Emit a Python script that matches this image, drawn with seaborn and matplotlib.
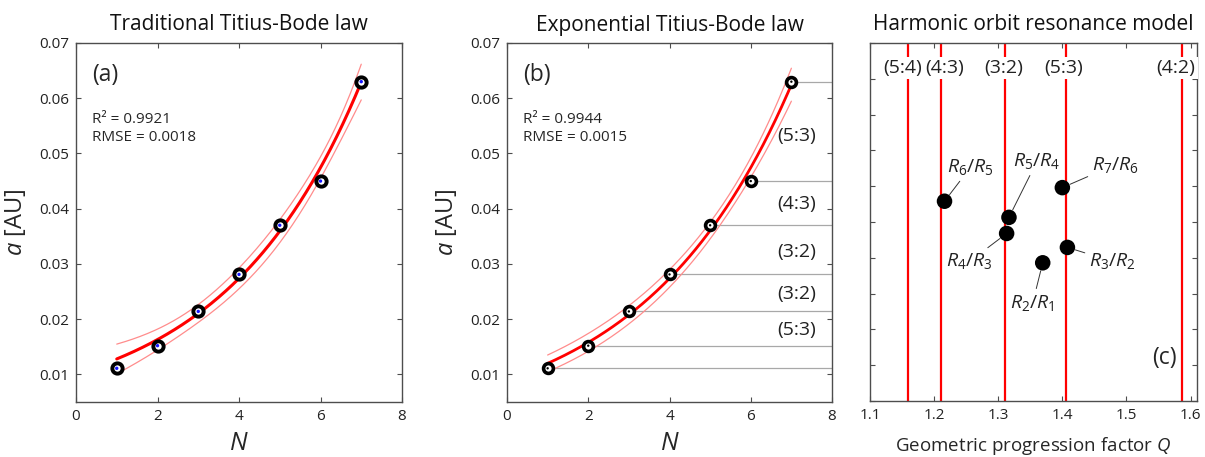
import numpy as np
import pandas as pd
import matplotlib
matplotlib.use("Agg")
import matplotlib.pyplot as plt
import seaborn as sns

# ---- data -------------------------------------------------------------
planet_n = [1, 2, 3, 4, 5, 6, 7]
semi_major_au = [0.0111, 0.0152, 0.0214, 0.0281, 0.0370, 0.0450, 0.0630]

stats_traditional = ["R\u00b2 = 0.9921", "RMSE = 0.0018"]
stats_exponential = ["R\u00b2 = 0.9944", "RMSE = 0.0015"]

# fitted coefficients: a = A + B * C**N  and  a = A * exp(k N)
tb_coef = {"A": 0.00266, "B": 0.00753, "C": 1.346}
exp_coef = {"A": 0.00911, "k": 0.275}

# resonance label for each gap between neighbouring orbits (inner gap unlabelled)
gap_resonances = ["", "(5:3)", "(3:2)", "(3:2)", "(4:3)", "(5:3)"]

resonance_names = ["(5:4)", "(4:3)", "(3:2)", "(5:3)", "(4:2)"]
resonance_q = [1.160, 1.211, 1.310, 1.406, 1.587]

ratio_names = [r"$R_2/R_1$", r"$R_3/R_2$", r"$R_4/R_3$",
               r"$R_5/R_4$", r"$R_6/R_5$", r"$R_7/R_6$"]
ratio_rows = [3.86, 4.29, 4.68, 5.13, 5.58, 5.96]

# ---- style ------------------------------------------------------------
sns.set_style("ticks")
plt.rcParams["font.family"] = ["Open Sans", "DejaVu Sans"]
plt.rcParams["mathtext.fontset"] = "custom"
plt.rcParams["mathtext.rm"] = "Open Sans"
plt.rcParams["mathtext.it"] = "Open Sans:italic"
plt.rcParams["axes.edgecolor"] = "#4d4d4d"
plt.rcParams["axes.linewidth"] = 1.0

N = np.asarray(planet_n, float)
A = np.asarray(semi_major_au, float)
xs = np.linspace(1, 7, 200)


def conf_band(f, jfun, params, x, p, t):
    """Pointwise confidence half-width of a fitted curve."""
    sse = np.sum((f(N, *params) - A) ** 2)
    J = jfun(N, *params)
    cov = np.linalg.inv(J.T @ J)
    s = np.sqrt(sse / (len(N) - p))
    Jx = jfun(x, *params)
    h = np.einsum("ij,jk,ik->i", Jx, cov, Jx)
    return t * s * np.sqrt(h)


f_t = lambda n, a0, b, c: a0 + b * c ** n
jac_t = lambda n, a0, b, c: np.column_stack([np.ones_like(n), c ** n, b * n * c ** (n - 1)])
p_t = (tb_coef["A"], tb_coef["B"], tb_coef["C"])
fit_t = f_t(xs, *p_t)
band_t = conf_band(f_t, jac_t, p_t, xs, 3, 2.0)

f_e = lambda n, a0, k: a0 * np.exp(k * n)
jac_e = lambda n, a0, k: np.column_stack([np.exp(k * n), a0 * n * np.exp(k * n)])
p_e = (exp_coef["A"], exp_coef["k"])
fit_e = f_e(xs, *p_e)
band_e = conf_band(f_e, jac_e, p_e, xs, 2, 2.571)

pts = pd.DataFrame({"N": N, "a": A})
curve_t = pd.DataFrame({"N": xs, "fit": fit_t, "lo": fit_t - band_t, "hi": fit_t + band_t})
curve_e = pd.DataFrame({"N": xs, "fit": fit_e, "lo": fit_e - band_e, "hi": fit_e + band_e})

# ---- figure -----------------------------------------------------------
W, H = 1205, 457
fig = plt.figure(figsize=(W / 100, H / 100), dpi=100)


def px_axes(x0, x1, y0, y1):
    return fig.add_axes([x0 / W, 1 - y1 / H, (x1 - x0) / W, (y1 - y0) / H])


ax_a = px_axes(76, 402, 43, 402)
ax_b = px_axes(507, 832, 43, 402)
ax_c = px_axes(870, 1197, 43, 401)

tick_kw = dict(direction="in", top=True, right=True, length=3.5, width=0.8,
               color="#4d4d4d", labelsize=11, labelcolor="#222222", pad=5)


def style_orbit_axes(ax, title, letter, stats):
    ax.set_xlim(0, 8)
    ax.set_ylim(0.005, 0.07)
    ax.set_xticks([0, 2, 4, 6, 8])
    ax.set_yticks([0.01, 0.02, 0.03, 0.04, 0.05, 0.06, 0.07])
    ax.set_yticklabels(["0.01", "0.02", "0.03", "0.04", "0.05", "0.06", "0.07"])
    ax.tick_params(**tick_kw)
    ax.set_title(title, fontsize=15, pad=9, color="#111111")
    ax.set_xlabel("$N$", fontsize=18, labelpad=5)
    ax.set_ylabel("$a$ [AU]", fontsize=17, labelpad=8)
    ax.text(0.05, 0.91, letter, transform=ax.transAxes, fontsize=16.5, va="center")
    ax.text(0.05, 0.788, stats[0], transform=ax.transAxes, fontsize=11, va="center")
    ax.text(0.05, 0.738, stats[1], transform=ax.transAxes, fontsize=11, va="center")
    for s in ax.spines.values():
        s.set_visible(True)


# (a) traditional law
sns.lineplot(data=curve_t, x="N", y="hi", ax=ax_a, color="#ff8c8c", lw=0.9)
sns.lineplot(data=curve_t, x="N", y="lo", ax=ax_a, color="#ff8c8c", lw=0.9)
sns.lineplot(data=curve_t, x="N", y="fit", ax=ax_a, color="#ff0000", lw=2.2)
sns.scatterplot(data=pts, x="N", y="a", ax=ax_a, s=55, color="white",
                edgecolor="black", linewidth=2.8, zorder=5)
sns.scatterplot(data=pts, x="N", y="a", ax=ax_a, s=6, color="#1515ff",
                edgecolor="none", zorder=6)
style_orbit_axes(ax_a, "Traditional Titius-Bode law", "(a)", stats_traditional)

# (b) exponential law with resonance steps
ax_b.hlines(A, N, 8, color="#a8a8a8", lw=0.9, zorder=1)
sns.lineplot(data=curve_e, x="N", y="hi", ax=ax_b, color="#ff8c8c", lw=0.9)
sns.lineplot(data=curve_e, x="N", y="lo", ax=ax_b, color="#ff8c8c", lw=0.9)
sns.lineplot(data=curve_e, x="N", y="fit", ax=ax_b, color="#ff0000", lw=2.0)
sns.scatterplot(data=pts, x="N", y="a", ax=ax_b, s=50, color="white",
                edgecolor="black", linewidth=2.6, zorder=5)
sns.scatterplot(data=pts, x="N", y="a", ax=ax_b, s=3, color="black",
                edgecolor="none", zorder=6)
for lab, lo, hi in zip(gap_resonances, A[:-1], A[1:]):
    if lab:
        ax_b.text(7.13, np.sqrt(lo * hi), lab, fontsize=14, ha="center", va="center",
                  color="#222222")
style_orbit_axes(ax_b, "Exponential Titius-Bode law", "(b)", stats_exponential)

# (c) harmonic orbit resonance model
q_ratio = A[1:] / A[:-1]
ratios = pd.DataFrame({"Q": q_ratio, "row": ratio_rows})
ax_c.set_xlim(1.1, 1.61)
ax_c.set_ylim(0, 10)
for q, name in zip(resonance_q, resonance_names):
    ax_c.axvline(q, color="#ff0000", lw=1.6, zorder=1)
shift = {"(5:4)": -0.009, "(4:3)": 0.005, "(3:2)": -0.002, "(5:3)": -0.004, "(4:2)": -0.010}
for q, name in zip(resonance_q, resonance_names):
    ax_c.text(q + shift[name], 9.3, name, fontsize=14, ha="center", va="center",
              color="#222222", zorder=3,
              bbox=dict(boxstyle="square,pad=0.12", fc="white", ec="none"))
sns.scatterplot(data=ratios, x="Q", y="row", ax=ax_c, s=125, color="black",
                edgecolor="none", zorder=5)
offsets = [(-10, -40), (45, -14), (-37, -28), (28, 56), (26, 34), (53, 23)]
for name, q, r, off in zip(ratio_names, q_ratio, ratio_rows, offsets):
    ax_c.annotate(name, (q, r), xytext=off, textcoords="offset pixels",
                  fontsize=14, ha="center", va="center", color="#222222",
                  bbox=dict(boxstyle="square,pad=0.15", fc="none", ec="none"),
                  arrowprops=dict(arrowstyle="-", color="#333333", lw=0.7,
                                  shrinkA=1, shrinkB=6))
ax_c.set_xticks([1.1, 1.2, 1.3, 1.4, 1.5, 1.6])
ax_c.set_xticklabels(["1.1", "1.2", "1.3", "1.4", "1.5", "1.6"])
ax_c.set_yticks(range(0, 11))
ax_c.tick_params(**tick_kw)
ax_c.tick_params(axis="y", labelleft=False)
ax_c.set_title("Harmonic orbit resonance model", fontsize=15, pad=9, color="#111111")
ax_c.set_xlabel("Geometric progression factor $Q$", fontsize=13.5, labelpad=9)
ax_c.set_ylabel("")
ax_c.text(0.90, 0.12, "(c)", transform=ax_c.transAxes, fontsize=16.5,
          ha="center", va="center")
for s in ax_c.spines.values():
    s.set_visible(True)

fig.savefig("out.png", dpi=100)
